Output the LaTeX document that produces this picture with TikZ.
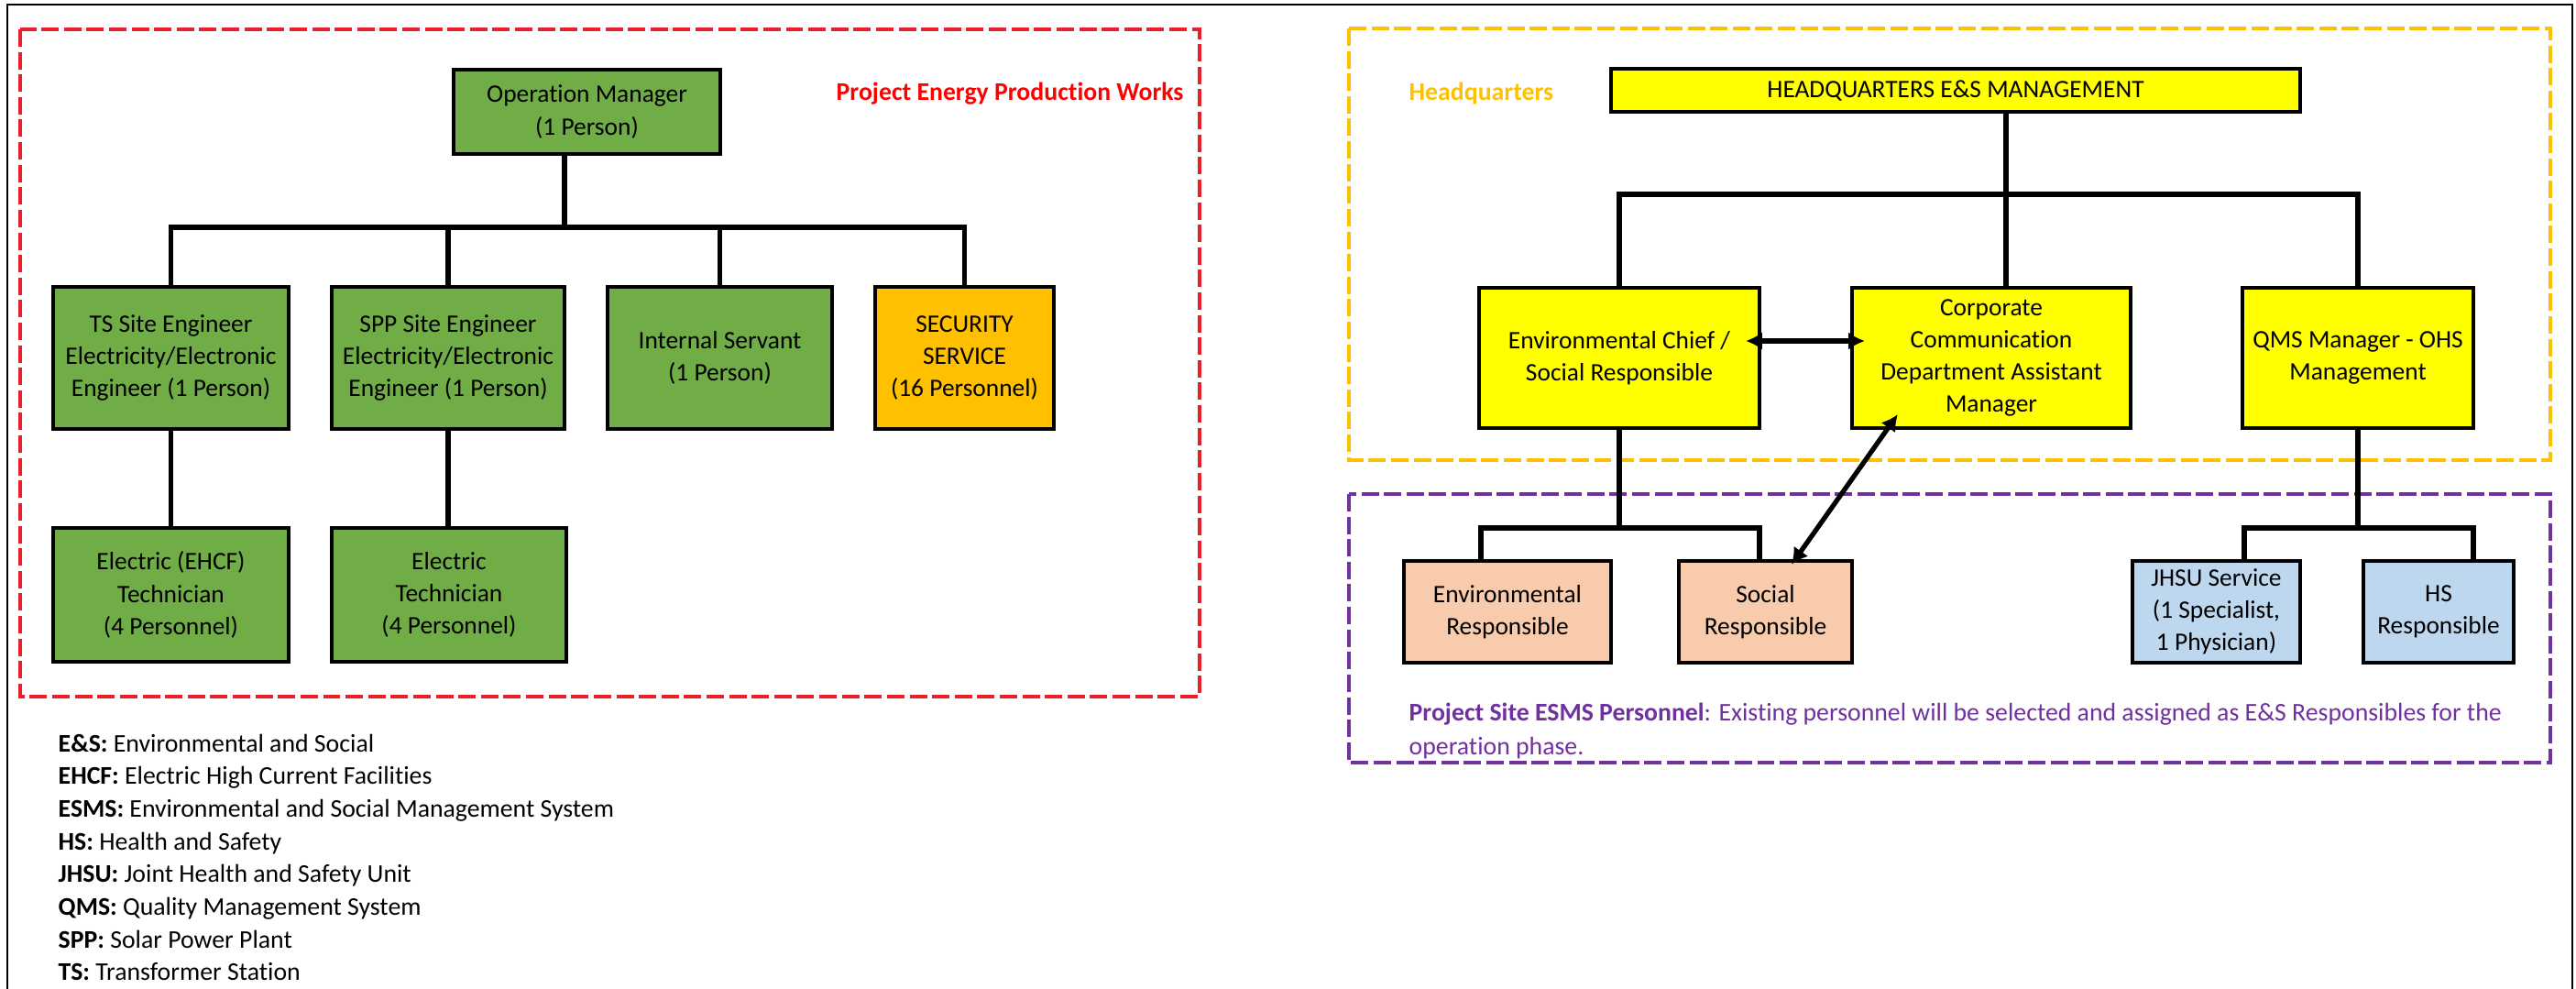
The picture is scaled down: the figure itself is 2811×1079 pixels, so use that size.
\documentclass[tikz,border=0pt]{standalone}
\usepackage{fontspec}
\setmainfont[Ligatures=NoCommon]{Carlito}
\usetikzlibrary{arrows.meta,calc}
\definecolor{grn}{HTML}{70AD47}
\definecolor{gold}{HTML}{FFC000}
\definecolor{yel}{HTML}{FFFF00}
\definecolor{peach}{HTML}{F8CBAD}
\definecolor{lblue}{HTML}{BDD7EE}
\definecolor{dred}{HTML}{E8202A}
\definecolor{purp}{HTML}{7030A0}
\begin{document}
\begin{tikzpicture}[x=0.01cm,y=-0.01cm,
  font=\fontsize{7.8}{10}\selectfont,
  box/.style={draw=black, line width=1.2pt, align=center, inner sep=0pt, anchor=center, text=black},
  conn/.style={line width=1.5pt, black},
  dbox/.style={line width=1.1pt, dash pattern=on 5.4pt off 1.6pt},
  biarrow/.style={line width=1.5pt, black, {Latex[length=5pt,width=5.5pt]}-{Latex[length=5pt,width=5.5pt]}},
  leg/.style={anchor=west, inner sep=0pt, text height=1.6ex, text depth=.4ex, font=\fontsize{7.9}{10}\selectfont}
]
\useasboundingbox (0,0) rectangle (2811,1079);
% outer frame
\draw[line width=0.8pt] (8,1079) -- (8,5) -- (2807,5) -- (2807,1079);
% dashed regions
\draw[dbox, draw=dred] (22,32) rectangle (1309,760);
\draw[dbox, draw=gold] (1472,31) rectangle (2783,502);
\draw[dbox, draw=purp] (1472,539) rectangle (2783,832);

% titles
\node[anchor=west, inner sep=0pt, text=red, font=\fontsize{7.9}{10}\selectfont\bfseries] (t1) at (912,102) {Project Energy Production Works};
\node[anchor=west, inner sep=0pt, text=gold, font=\fontsize{7.9}{10}\selectfont\bfseries] (t2) at (1537,102) {Headquarters};

% left chart
\node[box, fill=grn, minimum width=2.91cm, minimum height=0.92cm] (om) at (640.5,122) {Operation Manager\\(1 Person)};
\node[box, fill=grn, minimum width=2.57cm, minimum height=1.55cm] (ts) at (186.5,390.5) {TS Site Engineer\\Electricity/Electronic\\Engineer (1 Person)};
\node[box, fill=grn, minimum width=2.54cm, minimum height=1.55cm] (spp) at (489,390.5) {SPP Site Engineer\\Electricity/Electronic\\Engineer (1 Person)};
\node[box, fill=grn, minimum width=2.45cm, minimum height=1.55cm] (int) at (785.5,390.5) {Internal Servant\\(1 Person)};
\node[box, fill=gold, minimum width=1.95cm, minimum height=1.55cm] (sec) at (1052.5,390.5) {SECURITY\\SERVICE\\(16 Personnel)};
\node[box, fill=grn, minimum width=2.57cm, minimum height=1.46cm] (ehcf) at (186.5,649) {Electric (EHCF)\\Technician\\(4 Personnel)};
\node[box, fill=grn, minimum width=2.56cm, minimum height=1.46cm] (elec) at (490,649) {Electric\\Technician\\(4 Personnel)};

\coordinate (bL) at (616,248);
\draw[conn] (om.south -| bL) -- (bL);
\draw[conn] (ts.north) -- (ts.north |- bL) -- (sec.north |- bL) -- (sec.north);
\draw[conn] (spp.north) -- (spp.north |- bL);
\draw[conn] (int.north) -- (int.north |- bL);
\draw[conn] (ts.south) -- (ehcf.north);
\draw[conn] (spp.south) -- (spp.south |- elec.north);

% right chart
\node[box, fill=yel, minimum width=7.52cm, minimum height=0.47cm] (hq) at (2134,98.5) {HEADQUARTERS E\&S MANAGEMENT};
\node[box, fill=yel, minimum width=3.06cm, minimum height=1.53cm] (env) at (1767,390.5) {Environmental Chief /\\Social Responsible};
\node[box, fill=yel, minimum width=3.04cm, minimum height=1.53cm] (cor) at (2173,390.5) {Corporate\\Communication\\Department Assistant\\Manager};
\node[box, fill=yel, minimum width=2.52cm, minimum height=1.53cm] (qms) at (2573,390.5) {QMS Manager - OHS\\Management};
\node[box, fill=peach, minimum width=2.26cm, minimum height=1.11cm] (envr) at (1645,667.5) {Environmental\\Responsible};
\node[box, fill=peach, minimum width=1.89cm, minimum height=1.11cm] (socr) at (1926.5,667.5) {Social\\Responsible};
\node[box, fill=lblue, minimum width=1.83cm, minimum height=1.11cm] (jhsu) at (2418.5,667.5) {JHSU Service\\(1 Specialist,\\1 Physician)};
\node[box, fill=lblue, minimum width=1.64cm, minimum height=1.11cm] (hsr) at (2661,667.5) {HS\\Responsible};

\coordinate (bR) at (2189,212);
\draw[conn] (hq.south -| bR) -- (bR);
\draw[conn] (env.north) -- (env.north |- bR) -- (qms.north |- bR) -- (qms.north);
\draw[conn] (cor.north -| bR) -- (bR);

\coordinate (dE1) at (1616,576);
\coordinate (dE2) at (1920,576);
\draw[conn] (env.south) -- (env.south |- dE1);
\draw[conn] (envr.north -| dE1) -- (dE1) -- (dE2) -- (socr.north -| dE2);
\coordinate (dQ1) at (2449,576);
\coordinate (dQ2) at (2699,576);
\draw[conn] (qms.south) -- (qms.south |- dQ1);
\draw[conn] (jhsu.north -| dQ1) -- (dQ1) -- (dQ2) -- (hsr.north -| dQ2);

\draw[biarrow] ($(env.east)+(-17,-18.5)$) -- ($(cor.west)+(16,-18.5)$);
\draw[biarrow] ($(cor.south west)+(52,-17)$) -- ($(socr.north)+(28.5,6)$);

% note
\node[anchor=west, align=left, inner sep=0pt, text=purp, font=\fontsize{7.9}{10.5}\selectfont] (note) at (1537,797.5) {\textbf{Project Site ESMS Personnel}: Existing personnel will be selected and assigned as E\&S Responsibles for the\\operation phase.};

% legend
\node[leg] (l1) at (63,810) {\textbf{E\&S:} Environmental and Social};
\node[leg] (l2) at (63,845.7) {\textbf{EHCF:} Electric High Current Facilities};
\node[leg] (l3) at (63,881.4) {\textbf{ESMS:} Environmental and Social Management System};
\node[leg] (l4) at (63,917.1) {\textbf{HS:} Health and Safety};
\node[leg] (l5) at (63,952.8) {\textbf{JHSU:} Joint Health and Safety Unit};
\node[leg] (l6) at (63,988.5) {\textbf{QMS:} Quality Management System};
\node[leg] (l7) at (63,1024.2) {\textbf{SPP:} Solar Power Plant};
\node[leg] (l8) at (63,1059.9) {\textbf{TS:} Transformer Station};
\end{tikzpicture}
\end{document}
